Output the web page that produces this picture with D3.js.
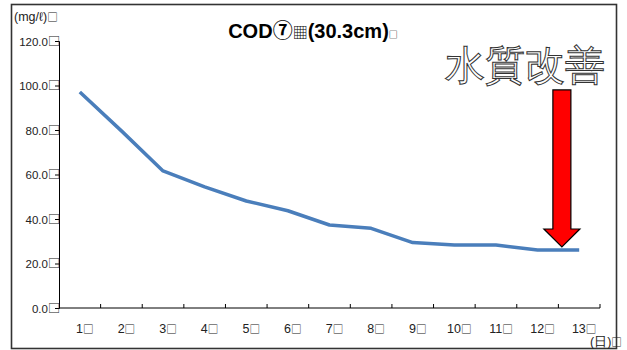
<!DOCTYPE html>
<html>
<head>
<meta charset="utf-8">
<script src="https://cdn.jsdelivr.net/npm/d3@7/dist/d3.min.js"></script>
<style>
  html, body { margin: 0; padding: 0; background: #fff; }
  svg { display: block; }
  text { font-family: "Liberation Sans", Arial, sans-serif; }
  .box { font-family: "Noto Sans CJK JP", sans-serif; }
</style>
</head>
<body>
<svg id="chart" width="627" height="350"></svg>
<script>
// Daily COD readings (mg/ℓ)
const days = ["1", "2", "3", "4", "5", "6", "7", "8", "9", "10", "11", "12", "13"];
const codValues = [97.1, 79.6, 61.6, 54.4, 48.1, 43.7, 37.3, 35.8, 29.4, 28.3, 28.3, 26.1, 26.1];
const yTicks = [0, 20, 40, 60, 80, 100, 120];
const titleParts = ["COD", "⑦", "▦", "(30.3cm)"];
const yUnit = "(mg/ℓ)";
const xUnit = "(日)";
const boxChar = "□";
const calloutText = "水質改善";
// arrow annotation: from / head start / tip values on the y scale
const arrowTop = 98, arrowHead = 35.5, arrowTip = 27.5;

const svg = d3.select("#chart");
const W = 627, H = 350;

svg.append("rect").attr("x", 0).attr("y", 0).attr("width", W).attr("height", H).attr("fill", "#fff");

// outer frame
svg.append("rect")
  .attr("x", 11.5).attr("y", 4.5).attr("width", 605).attr("height", 344)
  .attr("fill", "none").attr("stroke", "#333").attr("stroke-width", 1.6);

const x = d3.scaleBand().domain(days).range([59, 600]).padding(0);
const y = d3.scaleLinear().domain([0, 120]).range([308, 41]);

// label with a trailing full-width box glyph
function boxed(sel, txt, size, boxScale) {
  sel.append("tspan").text(txt);
  sel.append("tspan").attr("class", "box").attr("font-size", size * (boxScale || 0.85)).text(boxChar);
}

// y axis
const yAxis = svg.append("g").attr("transform", "translate(59,0)")
  .call(d3.axisLeft(y).tickValues(yTicks).tickSize(4).tickFormat(""));
yAxis.select(".domain").attr("stroke", "#000");
yAxis.selectAll(".tick line").attr("stroke", "#000");
yAxis.selectAll(".tick").each(function (d) {
  const t = d3.select(this).append("text")
    .attr("x", 1).attr("dy", "0.36em")
    .attr("text-anchor", "end")
    .attr("font-size", 11.5).attr("fill", "#222");
  boxed(t, d3.format(".1f")(d), 11.5, 1.05);
});

// x axis
const xAxis = svg.append("g").attr("transform", "translate(0,308)");
xAxis.append("line").attr("x1", 59).attr("x2", 600).attr("y1", 0).attr("y2", 0).attr("stroke", "#000");
const boundaries = days.map(d => x(d)).concat([x(days[days.length - 1]) + x.bandwidth()]);
xAxis.selectAll("line.tk").data(boundaries.slice(1)).join("line")
  .attr("class", "tk")
  .attr("x1", d => d).attr("x2", d => d).attr("y1", 0).attr("y2", -4)
  .attr("stroke", "#000");
xAxis.selectAll("text.lbl").data(days).join("text")
  .attr("class", "lbl")
  .attr("x", d => x(d) + x.bandwidth() / 2 + 5)
  .attr("y", 25)
  .attr("text-anchor", "middle")
  .attr("font-size", 12.5).attr("fill", "#222")
  .each(function (d) { boxed(d3.select(this), d, 12.5); });

// units
const yu = svg.append("text").attr("x", 14).attr("y", 21).attr("font-size", 12.5).attr("fill", "#222");
boxed(yu, yUnit, 12.5);
const xu = svg.append("text").attr("x", 590).attr("y", 346).attr("font-size", 12.5).attr("fill", "#222");
boxed(xu, xUnit, 12.5);

// title
const title = svg.append("text").attr("x", 313).attr("y", 38).attr("text-anchor", "middle")
  .attr("font-size", 20).attr("font-weight", "bold").attr("fill", "#000");
title.append("tspan").text(titleParts[0]);
title.append("tspan").attr("class", "box").text(titleParts[1]);
title.append("tspan").attr("class", "box").attr("font-size", 15).attr("font-weight", "normal").text(titleParts[2]);
title.append("tspan").text(titleParts[3]);
title.append("tspan").attr("class", "box").attr("font-size", 9).attr("font-weight", "normal").text(boxChar);

// data line
const line = d3.line()
  .x((d, i) => x(days[i]) + x.bandwidth() / 2)
  .y(d => y(d));
svg.append("path").datum(codValues)
  .attr("d", line)
  .attr("fill", "none")
  .attr("stroke", "#4a7ebb")
  .attr("stroke-width", 3.5)
  .attr("stroke-linejoin", "round");

// callout text, outlined
svg.append("text")
  .attr("x", 525).attr("y", 79)
  .attr("text-anchor", "middle")
  .attr("font-family", "Noto Sans CJK JP, sans-serif")
  .attr("font-size", 40)
  .attr("fill", "#fff")
  .attr("stroke", "#333")
  .attr("stroke-width", 1)
  .text(calloutText);

// red arrow pointing down to the final days
const ax = x("12") + x.bandwidth() + 3.5;
const shaftHalf = 9, headHalf = 18;
const pts = [
  [ax - shaftHalf, y(arrowTop)],
  [ax + shaftHalf, y(arrowTop)],
  [ax + shaftHalf, y(arrowHead)],
  [ax + headHalf, y(arrowHead)],
  [ax, y(arrowTip)],
  [ax - headHalf, y(arrowHead)],
  [ax - shaftHalf, y(arrowHead)]
];
svg.append("path")
  .attr("d", d3.line()(pts) + "Z")
  .attr("fill", "#ff0000")
  .attr("stroke", "#000")
  .attr("stroke-width", 1.2)
  .attr("stroke-linejoin", "miter");
</script>
</body>
</html>
